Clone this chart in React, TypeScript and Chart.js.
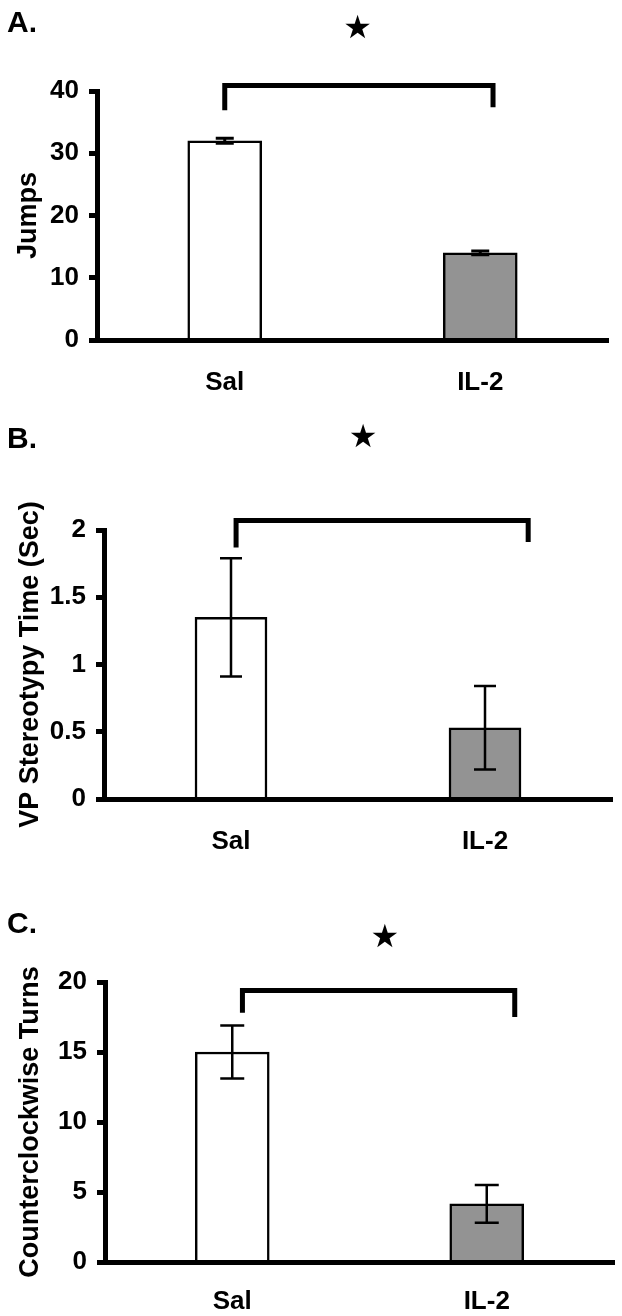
import React, { useEffect, useRef } from 'react';
import { Chart, registerables } from 'chart.js';

Chart.register(...registerables);

// ---------- data ----------
const categories = ['Sal', 'IL-2'];
const barColors = ['#ffffff', '#939393'];

const jumpsMeans = [32, 14];
const jumpsErrors = [0.4, 0.3];
const jumpsTicks = [0, 10, 20, 30, 40];

const vpMeans = [1.35, 0.53];
const vpErrors = [0.44, 0.31];
const vpTicks = [0, 0.5, 1, 1.5, 2];

const ccwMeans = [15, 4.15];
const ccwErrors = [1.9, 1.35];
const ccwTicks = [0, 5, 10, 15, 20];

const panelLetters = ['A.', 'B.', 'C.'];
const axisTitles = ['Jumps', 'VP Stereotypy Time (Sec)', 'Counterclockwise Turns'];
const significanceMark = '\u2605';

// ---------- fonts ----------
function hasFont(name: string): boolean {
  try {
    const c = document.createElement('canvas').getContext('2d');
    if (!c) return false;
    const sample = 'Sal IL-2 Jumps 0.5';
    c.font = 'bold 40px monospace';
    const base = c.measureText(sample).width;
    c.font = `bold 40px '${name}', monospace`;
    return Math.abs(c.measureText(sample).width - base) > 0.5;
  } catch (e) {
    return false;
  }
}
const NARROW = hasFont('Liberation Sans Narrow');
const FONT = NARROW
  ? "'Liberation Sans Narrow', 'Liberation Sans', Arial, sans-serif"
  : "'Liberation Sans', Arial, Helvetica, sans-serif";
const TICK_SIZE = NARROW ? 29 : 26;
const CAT_SIZE = NARROW ? 29 : 26;
const TITLE_SIZE = NARROW ? 33 : 27;
const LETTER_SIZE = NARROW ? 34 : 30;

// ---------- layout ----------
const W = 622;

type Panel = {
  letter: string;
  title: string;
  means: number[];
  errors: number[];
  ticks: number[];
  top: number;
  height: number;
  area: { left: number; right: number; top: number; bottom: number };
  barThickness: number;
  errCap: number;
  errLine: number;
  bracket: { x0: number; x1: number; yTop: number; yL: number; yR: number };
  star: { x: number; y: number };
  letterBaseline: number;
  titleCenterX: number;
  xPad: number;
};

const panels: Panel[] = [
  {
    letter: panelLetters[0], title: axisTitles[0], means: jumpsMeans, errors: jumpsErrors, ticks: jumpsTicks,
    top: 0, height: 410, area: { left: 97, right: 608, top: 91, bottom: 340 },
    barThickness: 74, errCap: 18, errLine: 3,
    bracket: { x0: 0, x1: 1.05, yTop: 40.9, yL: 36.9, yR: 37.4 },
    star: { x: 0.52, y: 49.8 }, letterBaseline: 32, titleCenterX: 29, xPad: 19,
  },
  {
    letter: panelLetters[1], title: axisTitles[1], means: vpMeans, errors: vpErrors, ticks: vpTicks,
    top: 400, height: 470, area: { left: 104, right: 612, top: 130, bottom: 399 },
    barThickness: 72, errCap: 22, errLine: 2.5,
    bracket: { x0: 0.02, x1: 1.17, yTop: 2.07, yL: 1.87, yR: 1.91 },
    star: { x: 0.52, y: 2.68 }, letterBaseline: 48, titleCenterX: 31, xPad: 19,
  },
  {
    letter: panelLetters[2], title: axisTitles[2], means: ccwMeans, errors: ccwErrors, ticks: ccwTicks,
    top: 850, height: 466, area: { left: 105, right: 614, top: 132, bottom: 412 },
    barThickness: 74, errCap: 24, errLine: 2.5,
    bracket: { x0: 0.04, x1: 1.11, yTop: 19.4, yL: 17.8, yR: 17.5 },
    star: { x: 0.6, y: 23.1 }, letterBaseline: 83, titleCenterX: 31, xPad: 16,
  },
];

function makeAnnotations(p: Panel) {
  return {
    id: 'annotations',
    afterDatasetsDraw(chart: any) {
      const { ctx, scales } = chart;
      const x = scales.x;
      const y = scales.y;
      const meta = chart.getDatasetMeta(0);
      ctx.save();
      ctx.strokeStyle = '#000';
      ctx.fillStyle = '#000';
      ctx.lineCap = 'butt';
      ctx.lineJoin = 'miter';

      // error bars
      meta.data.forEach((bar: any, i: number) => {
        const m = p.means[i];
        const e = p.errors[i];
        const hi = y.getPixelForValue(m + e);
        const lo = y.getPixelForValue(m - e);
        const bx = bar.x;
        ctx.lineWidth = p.errLine;
        ctx.beginPath();
        ctx.moveTo(bx, hi);
        ctx.lineTo(bx, lo);
        ctx.moveTo(bx - p.errCap / 2, hi);
        ctx.lineTo(bx + p.errCap / 2, hi);
        ctx.moveTo(bx - p.errCap / 2, lo);
        ctx.lineTo(bx + p.errCap / 2, lo);
        ctx.stroke();
      });

      // significance bracket
      const b = p.bracket;
      const xl = x.getPixelForValue(b.x0);
      const xr = x.getPixelForValue(b.x1);
      ctx.lineWidth = 5;
      ctx.beginPath();
      ctx.moveTo(xl, y.getPixelForValue(b.yL));
      ctx.lineTo(xl, y.getPixelForValue(b.yTop));
      ctx.lineTo(xr, y.getPixelForValue(b.yTop));
      ctx.lineTo(xr, y.getPixelForValue(b.yR));
      ctx.stroke();

      // star
      ctx.font = "32px 'DejaVu Sans', sans-serif";
      ctx.textAlign = 'center';
      ctx.textBaseline = 'middle';
      ctx.fillText(significanceMark, x.getPixelForValue(p.star.x), y.getPixelForValue(p.star.y));

      // panel letter
      ctx.font = `bold ${LETTER_SIZE}px ${FONT}`;
      ctx.textAlign = 'left';
      ctx.textBaseline = 'alphabetic';
      ctx.fillText(p.letter, 7, p.letterBaseline);
      ctx.restore();
    },
  };
}

function PanelChart({ p }: { p: Panel }) {
  const ref = useRef<HTMLCanvasElement | null>(null);
  useEffect(() => {
    if (!ref.current) return;
    const titlePad = Math.max(0, p.titleCenterX - (TITLE_SIZE * 1.2) / 2);
    const chart = new Chart(ref.current, {
      type: 'bar',
      data: {
        labels: categories,
        datasets: [
          {
            data: p.means,
            backgroundColor: barColors,
            borderColor: '#000',
            borderWidth: 2.5,
            barThickness: p.barThickness,
          },
        ],
      },
      options: {
        responsive: false,
        animation: false,
        devicePixelRatio: 1,
        layout: {
          padding: { left: 0, top: p.area.top, right: W - p.area.right, bottom: 0 },
        },
        plugins: {
          legend: { display: false },
          tooltip: { enabled: false },
          title: { display: false },
        },
        scales: {
          x: {
            type: 'category',
            offset: true,
            grid: { display: false },
            border: { display: true, color: '#000', width: 5, z: 1 },
            ticks: {
              color: '#000',
              font: { family: FONT, size: CAT_SIZE, weight: 'bold' },
              padding: p.xPad,
              maxRotation: 0,
              autoSkip: false,
            },
            afterFit: (s: any) => {
              s.height = p.height - p.area.bottom;
            },
          },
          y: {
            type: 'linear',
            min: p.ticks[0],
            max: p.ticks[p.ticks.length - 1],
            afterBuildTicks: (s: any) => {
              s.ticks = p.ticks.map((v) => ({ value: v }));
            },
            ticks: {
              color: '#000',
              font: { family: FONT, size: TICK_SIZE, weight: 'bold' },
              padding: 10,
              callback: (v: any) => String(v),
            },
            grid: {
              display: true,
              drawOnChartArea: false,
              drawTicks: true,
              tickLength: 8,
              tickWidth: 5,
              tickColor: '#000',
              color: '#000',
            },
            border: { display: true, color: '#000', width: 5, z: 1 },
            title: {
              display: true,
              text: p.title,
              color: '#000',
              font: { family: FONT, size: TITLE_SIZE, weight: 'bold' },
              padding: { top: titlePad, bottom: 0 },
            },
            afterFit: (s: any) => {
              s.width = p.area.left;
            },
          },
        },
      },
      plugins: [makeAnnotations(p)],
    } as any);
    return () => chart.destroy();
  }, [p]);
  return (
    <canvas
      ref={ref}
      width={W}
      height={p.height}
      style={{ position: 'absolute', left: 0, top: p.top, width: W, height: p.height }}
    />
  );
}

export default function App() {
  return (
    <div style={{ position: 'absolute', left: 0, top: 0, width: W, height: 1316, background: '#fff', overflow: 'hidden' }}>
      {panels.map((p) => (
        <PanelChart key={p.letter} p={p} />
      ))}
    </div>
  );
}
